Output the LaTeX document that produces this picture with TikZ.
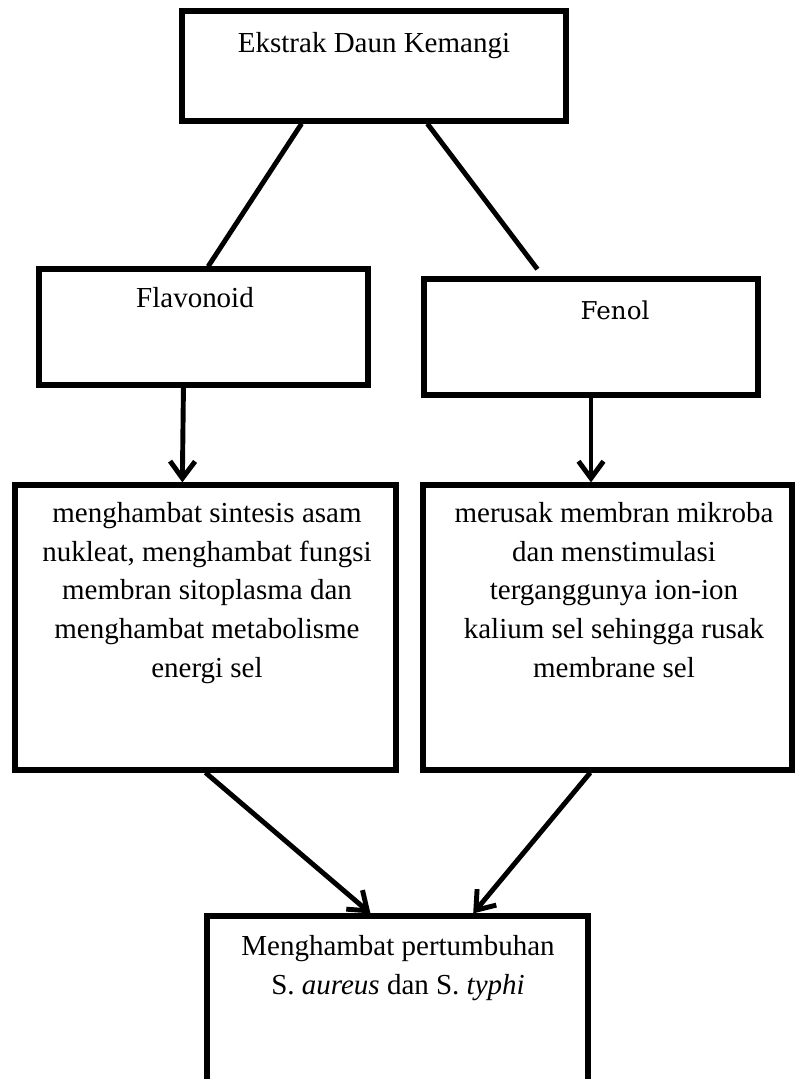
\documentclass[tikz,border=0pt]{standalone}
\usepackage{fontspec}
\setmainfont{Liberation Serif}
\newfontfamily\fenolfont{DejaVu Serif}
\usetikzlibrary{arrows.meta}
\usetikzlibrary{calc}
\begin{document}
\begin{tikzpicture}[line cap=butt,line join=miter,>={Straight Barb[length=3.4mm,width=5mm]},x=0.02cm,y=-0.02cm,
kotak/.style={draw,line width=3pt,rectangle,inner sep=0pt},
teks/.style={font=\fontsize{16.5}{22}\selectfont,inner sep=0pt,align=center},
garis/.style={line width=2.8pt}]
\useasboundingbox (0,0) rectangle (796,1079);
\clip (0,0) rectangle (796,1079);
\node[kotak,minimum width=7.68cm,minimum height=2.2cm] (ekstrak) at (374,66) {};
\node[kotak,minimum width=6.58cm,minimum height=2.32cm] (flav) at (203.5,327) {};
\node[kotak,minimum width=6.68cm,minimum height=2.32cm] (fenol) at (591,337) {};
\node[kotak,minimum width=7.62cm,minimum height=5.7cm] (hambat) at (205.5,627.5) {};
\node[kotak,minimum width=7.38cm,minimum height=5.7cm] (rusak) at (607.5,627.5) {};
\node[kotak,minimum width=7.62cm,minimum height=3.64cm] (tumbuh) at (397.5,1007) {};
\node[teks,anchor=base] (tekstrak) at (374,52) {Ekstrak Daun Kemangi};
\node[teks,anchor=base] (tflav) at (195,307) {Flavonoid};
\node[teks,anchor=base,font=\fenolfont\fontsize{14}{18}\selectfont] (tfenol) at (615,319) {Fenol};
\node[teks,anchor=north] (thambat) at (207,502) {menghambat sintesis asam\\nukleat, menghambat fungsi\\membran sitoplasma dan\\menghambat metabolisme\\energi sel};
\node[teks,anchor=north] (trusak) at (614,502) {merusak membran mikroba\\dan menstimulasi\\terganggunya ion-ion\\kalium sel sehingga rusak\\membrane sel};
\node[teks,anchor=north] (ttumbuh) at (398,935) {Menghambat pertumbuhan\\S. \textit{aureus} dan S. \textit{typhi}};
\draw[garis] ($(ekstrak.south west)!0.314!(ekstrak.south east)$) -- ($(flav.north west)!0.514!(flav.north east)$);
\draw[garis,shorten >=0.18cm] ($(ekstrak.south west)!0.637!(ekstrak.south east)$) -- ($(fenol.north west)!0.358!(fenol.north east)$);
\draw[garis,->] ($(flav.south west)!0.44!(flav.south east)$) -- ($(hambat.north west)!0.44!(hambat.north east)$);
\draw[garis,->] (fenol.south) -- (fenol.south |- rusak.north);
\draw[garis,->] (hambat.south) -- ($(tumbuh.north west)!0.43!(tumbuh.north east)$);
\draw[garis,->] ($(rusak.south west)!0.454!(rusak.south east)$) -- ($(tumbuh.north west)!0.696!(tumbuh.north east)$);
\end{tikzpicture}
\end{document}
